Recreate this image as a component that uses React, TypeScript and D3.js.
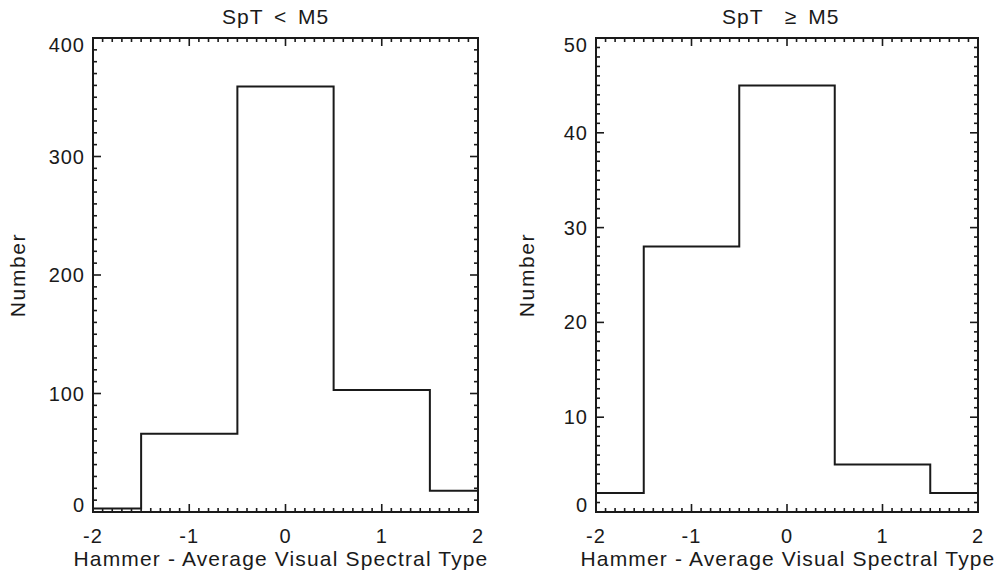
import React from "react";
import * as d3 from "d3";

const binCenters = [-2, -1, 0, 1, 2];
const countsEarly = [3, 66, 359, 103, 18];
const countsLate = [2, 28, 45, 5, 2];
const xTicks = [-2, -1, 0, 1, 2];
const yTicksEarly = [0, 100, 200, 300, 400];
const yTicksLate = [0, 10, 20, 30, 40, 50];
const titles = ["SpT < M5", "SpT  \u2265 M5"];
const xLabel = "Hammer - Average Visual Spectral Type";
const yLabel = "Number";

const W = 1002;
const H = 574;
const top = 38;
const bottom = 512;
const FONT = "'Liberation Sans', Arial, Helvetica, sans-serif";
const INK = "#1a1a1a";

type PanelProps = {
  x0: number;
  x1: number;
  counts: number[];
  yMax: number;
  yTicks: number[];
  yMinorStep: number;
  title: string;
  yLabelX: number;
  titleCx: number;
  headX: number;
};

function Panel({ x0, x1, counts, yMax, yTicks, yMinorStep, title, yLabelX, titleCx, headX }: PanelProps) {
  const xs = d3.scaleLinear().domain([-2, 2]).range([x0, x1]);
  const ys = d3.scaleLinear().domain([0, yMax]).range([bottom, top]);
  const pts = binCenters.map((c, i) => [c, counts[i]] as [number, number]);
  const line = d3
    .line<[number, number]>()
    .x((d) => xs(d[0]))
    .y((d) => ys(d[1]))
    .curve(d3.curveStep);
  const xMinor = d3.range(-2, 2.0001, 0.1).map((v) => Math.round(v * 10) / 10);
  const yMinor = d3.range(0, yMax + 1e-6, yMinorStep);
  const isMajorX = (v: number) => Math.abs(v - Math.round(v)) < 1e-6;
  const isMajorY = (v: number) => yTicks.some((t) => Math.abs(t - v) < 1e-6);
  const minorLen = 4;
  const majorLen = 8;
  return (
    <g>
      {xMinor.map((v, i) => {
        const len = isMajorX(v) ? majorLen : minorLen;
        const px = xs(v);
        return (
          <g key={"xt" + i}>
            <line x1={px} x2={px} y1={bottom} y2={bottom - len} stroke={INK} strokeWidth={1.6} />
            <line x1={px} x2={px} y1={top} y2={top + len} stroke={INK} strokeWidth={1.6} />
          </g>
        );
      })}
      {yMinor.map((v, i) => {
        const len = isMajorY(v) ? majorLen : minorLen;
        const py = ys(v);
        return (
          <g key={"yt" + i}>
            <line x1={x0} x2={x0 + len} y1={py} y2={py} stroke={INK} strokeWidth={1.6} />
            <line x1={x1} x2={x1 - len} y1={py} y2={py} stroke={INK} strokeWidth={1.6} />
          </g>
        );
      })}
      <path d={line(pts) || ""} fill="none" stroke={INK} strokeWidth={2} />
      <rect x={x0} y={top} width={x1 - x0} height={bottom - top} fill="none" stroke={INK} strokeWidth={2} />
      {xTicks.map((v) => (
        <text key={"xl" + v} x={xs(v)} y={543} textAnchor="middle" fontFamily={FONT} fontSize={20} letterSpacing={1} fill={INK}>
          {v}
        </text>
      ))}
      {yTicks.map((v) => {
        const cy = Math.min(Math.max(ys(v), top + 7), bottom - 7);
        return (
          <text key={"yl" + v} x={x0 - 8} y={cy + 7} textAnchor="end" fontFamily={FONT} fontSize={20} letterSpacing={1} fill={INK}>
            {v}
          </text>
        );
      })}
      <text x={titleCx} y={566} textAnchor="middle" fontFamily={FONT} fontSize={21} letterSpacing={1.15} fill={INK}>
        {xLabel}
      </text>
      <text x={headX} y={24} textAnchor="start" fontFamily={FONT} fontSize={21} letterSpacing={1} wordSpacing={4} fill={INK} style={{ whiteSpace: "pre" }}>
        {title}
      </text>
      <text
        transform={`translate(${yLabelX},${(top + bottom) / 2}) rotate(-90)`}
        textAnchor="middle"
        fontFamily={FONT}
        fontSize={21}
        letterSpacing={1.6}
        fill={INK}
        dy={7}
      >
        {yLabel}
      </text>
    </g>
  );
}

export default function App() {
  return (
    <div style={{ position: "absolute", left: 0, top: 0 }}>
      <svg width={W} height={H} style={{ display: "block", background: "#fff" }}>
        <Panel
          x0={93}
          x1={478}
          counts={countsEarly}
          yMax={400}
          yTicks={yTicksEarly}
          yMinorStep={10}
          title={titles[0]}
          yLabelX={18}
          titleCx={281}
          headX={222}
        />
        <Panel
          x0={596}
          x1={978}
          counts={countsLate}
          yMax={50}
          yTicks={yTicksLate}
          yMinorStep={1}
          title={titles[1]}
          yLabelX={527}
          titleCx={788}
          headX={722}
        />
      </svg>
    </div>
  );
}
